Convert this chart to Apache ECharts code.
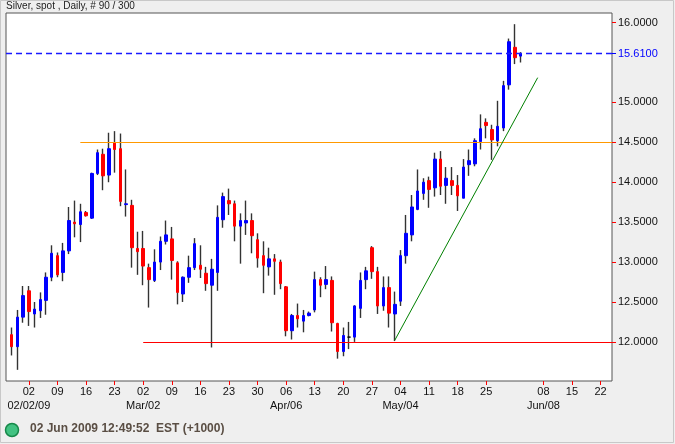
<!DOCTYPE html>
<html>
<head>
<meta charset="utf-8">
<script src="https://cdn.jsdelivr.net/npm/echarts@6/dist/echarts.min.js"></script>
<style>
  html, body { margin: 0; padding: 0; background: #efefef; }
  #main { width: 675px; height: 444px; }
</style>
</head>
<body>
<div id="main"></div>
<script>
// trading days, weekdays Jan 28 .. Jun 02 2009 (90 bars)
function weekdays(from, to) {
    var out = [];
    for (var t = Date.UTC(from[0], from[1] - 1, from[2]); t <= Date.UTC(to[0], to[1] - 1, to[2]); t += 86400000) {
        var d = new Date(t);
        if (d.getUTCDay() === 0 || d.getUTCDay() === 6) continue;
        out.push(d.toISOString().slice(0, 10));
    }
    return out;
}
var days = weekdays([2009, 1, 28], [2009, 6, 2]);
var axisDays = weekdays([2009, 1, 27], [2009, 6, 24]);

var opens = [12.09, 11.94, 12.31, 12.64, 12.35, 12.39, 12.52, 12.81, 13.08, 12.87,
    13.14, 13.50, 13.47, 13.62, 13.55, 14.11, 14.35, 14.09, 14.49, 14.42,
    13.72, 13.71, 13.17, 13.17, 12.93, 12.77, 13.00, 13.26, 13.29, 12.99,
    12.60, 12.81, 12.93, 12.96, 12.86, 12.71, 12.87, 13.53, 13.77, 13.73,
    13.45, 13.49, 13.52, 13.28, 13.08, 12.94, 13.04, 13.00, 12.69, 12.14,
    12.33, 12.26, 12.33, 12.40, 12.78, 12.72, 12.77, 12.23, 11.88, 12.06,
    12.06, 12.42, 12.78, 13.18, 12.88, 12.45, 12.68, 12.35, 12.51, 13.08,
    13.34, 13.66, 13.86, 14.02, 13.93, 14.29, 13.96, 14.02, 13.96, 13.80,
    14.22, 14.23, 14.51, 14.75, 14.66, 14.52, 14.68, 15.22, 15.69, 15.58];
var highs = [12.18, 12.40, 12.70, 12.70, 12.50, 12.62, 12.87, 13.21, 13.12, 13.24,
    13.69, 13.77, 13.73, 13.64, 14.12, 14.41, 14.42, 14.62, 14.64, 14.61,
    14.16, 13.78, 13.38, 13.39, 12.98, 13.16, 13.32, 13.52, 13.44, 13.01,
    12.82, 13.08, 13.30, 13.21, 12.94, 13.04, 13.71, 13.87, 13.92, 13.77,
    13.61, 13.77, 13.61, 13.36, 13.26, 13.18, 13.10, 13.03, 12.70, 12.35,
    12.48, 12.40, 12.38, 12.88, 12.81, 12.95, 12.82, 12.24, 12.18, 12.25,
    12.46, 12.87, 12.94, 13.20, 12.94, 12.82, 12.82, 12.63, 13.15, 13.59,
    13.84, 14.16, 14.05, 14.07, 14.37, 14.39, 14.19, 14.19, 14.09, 14.29,
    14.41, 14.55, 14.85, 14.80, 14.72, 15.02, 15.27, 15.80, 15.98, 15.63];
var lows = [11.83, 11.65, 12.24, 12.20, 12.18, 12.30, 12.34, 12.76, 12.81, 12.76,
    13.10, 13.31, 13.25, 13.57, 13.54, 14.09, 13.90, 14.00, 14.12, 13.70,
    13.57, 12.93, 12.84, 12.71, 12.43, 12.75, 12.90, 13.22, 12.78, 12.47,
    12.50, 12.74, 12.90, 12.80, 12.64, 11.93, 12.64, 13.43, 13.59, 13.26,
    12.98, 13.34, 13.11, 12.93, 12.61, 12.83, 12.59, 12.66, 12.07, 12.03,
    12.18, 12.12, 12.32, 12.37, 12.56, 12.66, 12.13, 11.79, 11.82, 11.91,
    12.00, 12.30, 12.66, 12.79, 12.35, 12.39, 12.18, 12.01, 12.45, 12.98,
    13.26, 13.65, 13.78, 13.68, 13.82, 13.84, 13.73, 13.84, 13.64, 13.80,
    14.08, 14.20, 14.41, 14.55, 14.28, 14.45, 14.64, 15.16, 15.48, 15.50];
var closes = [11.94, 12.31, 12.58, 12.38, 12.41, 12.53, 12.81, 13.11, 12.84, 13.14,
    13.52, 13.48, 13.63, 13.58, 14.11, 14.37, 14.08, 14.42, 14.41, 13.76,
    13.73, 13.18, 13.13, 12.95, 12.78, 13.00, 13.26, 13.34, 13.02, 12.62,
    12.81, 12.93, 13.23, 12.91, 12.73, 12.91, 13.56, 13.82, 13.73, 13.45,
    13.52, 13.52, 13.33, 13.05, 12.96, 13.04, 13.01, 12.73, 12.14, 12.33,
    12.29, 12.33, 12.36, 12.78, 12.71, 12.78, 12.24, 11.88, 12.08, 12.06,
    12.45, 12.77, 12.89, 12.88, 12.45, 12.68, 12.36, 12.47, 13.08, 13.36,
    13.69, 13.89, 14.00, 13.91, 14.29, 13.95, 14.05, 13.96, 13.83, 14.19,
    14.27, 14.52, 14.67, 14.71, 14.53, 14.70, 15.21, 15.76, 15.56, 15.61];

// y axis ticks (15.5 hidden under the last price) and x axis ticks (Mondays shown)
var yTicks = [12, 12.5, 13, 13.5, 14, 14.5, 15, 16];
var tickDays = ['2009-02-02', '2009-02-09', '2009-02-16', '2009-02-23', '2009-03-02', '2009-03-09',
    '2009-03-16', '2009-03-23', '2009-03-30', '2009-04-06', '2009-04-13', '2009-04-20', '2009-04-27',
    '2009-05-04', '2009-05-11', '2009-05-18', '2009-05-25', '2009-06-08', '2009-06-15', '2009-06-22'];
var monthLabels = {
    '2009-02-02': '02/02/09', '2009-03-02': 'Mar/02', '2009-04-06': 'Apr/06',
    '2009-05-04': 'May/04', '2009-06-08': 'Jun/08'
};

// drawn lines
var lastPrice = 15.61;
var resistance = { from: '2009-02-13', value: 14.5 };
var support = { from: '2009-03-02', value: 12.0 };
var trend = [['2009-05-01', 12.02], ['2009-06-05', 15.31]];
var blackBars = ['2009-04-21'];

var FONT = 'Liberation Sans';
var lastDay = axisDays[axisDays.length - 1];

var wickData = axisDays.map(function (d) {
    var i = days.indexOf(d);
    return i < 0 ? '-' : [opens[i], closes[i], lows[i], highs[i]];
});
var bodyData = axisDays.map(function (d) {
    var i = days.indexOf(d);
    if (i < 0) return '-';
    var v = [opens[i], closes[i], Math.min(opens[i], closes[i]), Math.max(opens[i], closes[i])];
    if (blackBars.indexOf(d) >= 0) return { value: v, itemStyle: { color: '#000', color0: '#000', borderColor: '#000', borderColor0: '#000' } };
    return v;
});

var chart = echarts.init(document.getElementById('main'));
var option = {
    animation: false,
    backgroundColor: '#efefef',
    textStyle: { fontFamily: FONT },
    grid: {
        left: 6, right: 63, top: 13, bottom: 63,
        show: true, backgroundColor: '#ffffff', borderColor: '#555555', borderWidth: 1
    },
    xAxis: {
        type: 'category',
        data: axisDays,
        boundaryGap: false,
        axisLine: { show: false },
        axisTick: {
            interval: function (idx, val) { return tickDays.indexOf(val) >= 0; },
            length: 4,
            lineStyle: { color: '#ff0000' }
        },
        axisLabel: {
            interval: function (idx, val) { return tickDays.indexOf(val) >= 0; },
            margin: 4,
            formatter: function (val) {
                return '{d|' + val.slice(8) + '}\n{m|' + (monthLabels[val] || ' ') + '}';
            },
            rich: {
                d: { fontSize: 11, lineHeight: 14, color: '#111', fontFamily: FONT },
                m: { fontSize: 11, lineHeight: 14, color: '#111', fontFamily: FONT }
            }
        },
        splitLine: { show: false }
    },
    yAxis: [{
        type: 'value',
        position: 'right',
        min: 11.51,
        max: 16.12,
        axisLine: { show: false },
        splitLine: { show: false },
        axisTick: { show: true, length: 4, customValues: yTicks, lineStyle: { color: '#ff0000' } },
        axisLabel: {
            customValues: yTicks,
            margin: 6,
            fontSize: 11,
            color: '#111',
            formatter: function (v) { return v.toFixed(4); }
        }
    }, {
        type: 'value',
        position: 'right',
        min: 11.51,
        max: 16.12,
        axisLine: { show: false },
        splitLine: { show: false },
        axisTick: { show: true, length: 4, customValues: [lastPrice], lineStyle: { color: '#0000ff' } },
        axisLabel: {
            customValues: [lastPrice],
            margin: 6,
            fontSize: 11,
            color: '#0000ff',
            formatter: function (v) { return v.toFixed(4); }
        }
    }],
    series: [{
        // wicks
        type: 'candlestick',
        data: wickData,
        barWidth: 1,
        itemStyle: {
            color: '#333', color0: '#333',
            borderColor: '#333', borderColor0: '#333', borderWidth: 1.4
        },
        markLine: {
            silent: true,
            symbol: 'none',
            label: { show: false },
            data: [
                [{ coord: [resistance.from, resistance.value], lineStyle: { color: '#ff9900', type: 'solid', width: 1.2 } },
                 { coord: [lastDay, resistance.value] }],
                [{ coord: [support.from, support.value], lineStyle: { color: '#ff0000', type: 'solid', width: 1.2 } },
                 { coord: [lastDay, support.value] }],
                [{ coord: trend[0], lineStyle: { color: '#008000', type: 'solid', width: 1 } },
                 { coord: trend[1] }]
            ]
        }
    }, {
        // bodies
        type: 'candlestick',
        data: bodyData,
        barWidth: 3,
        itemStyle: {
            color: '#0000ff', color0: '#ff0000',
            borderColor: '#0000ff', borderColor0: '#ff0000', borderWidth: 1
        },
        markLine: {
            silent: true,
            symbol: 'none',
            label: { show: false },
            lineStyle: { color: '#1a1aff', type: 'dashed', dashOffset: 0, width: 1.3 },
            data: [
                [{ coord: [axisDays[0], lastPrice], lineStyle: { color: '#1a1aff', type: [6, 4], width: 1.3 } },
                 { coord: [lastDay, lastPrice] }]
            ]
        }
    }],
    graphic: [
        {
            type: 'rect', silent: true,
            shape: { x: 0.5, y: 0.5, width: 673, height: 442 },
            style: { fill: 'none', stroke: '#c8c8c8', lineWidth: 1 }
        },
        {
            type: 'text', left: 6, top: 1, silent: true,
            style: { text: 'Silver, spot , Daily, # 90 / 300', font: '10px "Liberation Sans"', fill: '#222' }
        },
        {
            type: 'circle', silent: true,
            shape: { cx: 12, cy: 430, r: 6.5 },
            style: { fill: '#42c282', stroke: '#17894a', lineWidth: 1.5 }
        },
        {
            type: 'text', left: 30, top: 423, silent: true,
            style: { text: '02 Jun 2009 12:49:52  EST (+1000)', font: 'bold 12px "Liberation Sans"', fill: '#5a4e44' }
        }
    ]
};
chart.setOption(option);
window.onresize = chart.resize;
</script>
</body>
</html>
